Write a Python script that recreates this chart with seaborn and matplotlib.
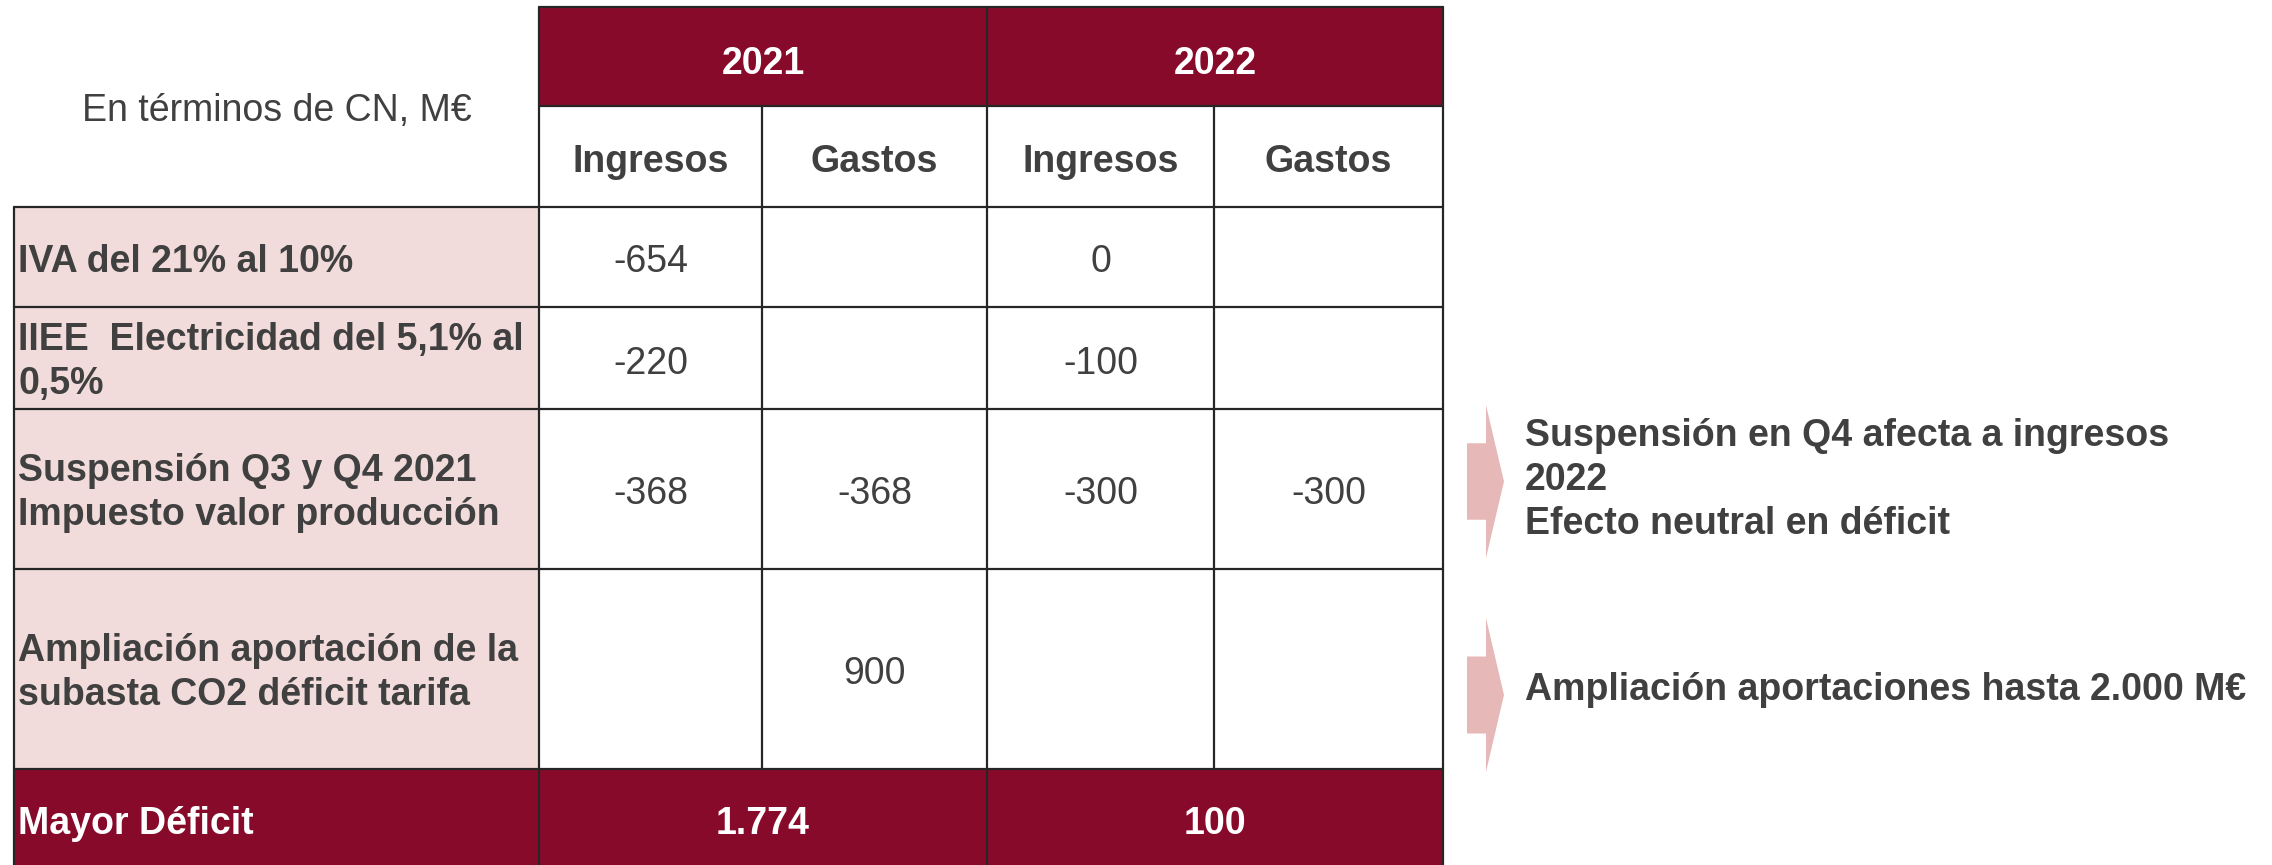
import matplotlib
matplotlib.use("Agg")
import matplotlib.pyplot as plt
import seaborn as sns
from matplotlib.patches import Rectangle, Polygon

# ---------------- data ----------------
unit_label = "En términos de CN, M€"
years = ["2021", "2022"]
subcols = ["Ingresos", "Gastos"]
row_labels = [
    "IVA del 21% al 10%",
    "IIEE  Electricidad del 5,1% al\n0,5%",
    "Suspensión Q3 y Q4 2021\nImpuesto valor producción",
    "Ampliación aportación de la\nsubasta CO2 déficit tarifa",
]
ingresos_2021 = [-654, -220, -368, None]
gastos_2021 = [None, None, -368, 900]
ingresos_2022 = [0, -100, -300, None]
gastos_2022 = [None, None, -300, None]
total_label = "Mayor Déficit"
mayor_deficit = [1774, 100]
notes = [
    "Suspensión en Q4 afecta a ingresos\n2022\nEfecto neutral en déficit",
    "Ampliación aportaciones hasta 2.000 M€",
]

# ---------------- style ----------------
sns.set_theme(style="white")
plt.rcParams["font.family"] = ["Liberation Sans", "DejaVu Sans"]

DARK_RED = "#880A2B"
PINK = "#F2DCDB"
ARROW = "#E6B9B8"
TXT = "#404040"
LINE = "#262626"
FS = 27
CAP_HALF = 13.5   # half cap height in px at FS
LS = 1.27

def fmt(v):
    if v is None:
        return ""
    s = f"{abs(v):,}".replace(",", ".")
    return ("-" if v < 0 else "") + s

W, H = 2272, 865
fig = plt.figure(figsize=(W / 100, H / 100), dpi=100)
ax = fig.add_axes([0, 0, 1, 1])
ax.set_xlim(0, W)
ax.set_ylim(H, 0)
ax.axis("off")

def line_text(x, cy, s, **kw):
    ax.text(x, cy + CAP_HALF, s, va="baseline", fontsize=FS, **kw)

# layout (pixel positions)
xs = [14, 539, 762, 987, 1214, 1443]
ys_head = [7, 106, 207]
ys_rows = [207, 307, 409, 569, 769]
y_bottom = 865

# header row 1 (years)
ax.add_patch(Rectangle((xs[1], ys_head[0]), xs[5] - xs[1], ys_head[1] - ys_head[0],
                       facecolor=DARK_RED, edgecolor="none"))
for i, yr in enumerate(years):
    cx = (xs[1 + 2 * i] + xs[3 + 2 * i]) / 2
    line_text(cx, (ys_head[0] + ys_head[1]) / 2 + 4, yr, color="white",
              fontweight="bold", ha="center")
# header row 2
for j in range(4):
    cx = (xs[1 + j] + xs[2 + j]) / 2
    line_text(cx, (ys_head[1] + ys_head[2]) / 2 + 2, subcols[j % 2], color=TXT,
              fontweight="bold", ha="center")
line_text((xs[0] + xs[1]) / 2, ys_head[1] + 2, unit_label, color=TXT, ha="center")

# body rows
cols = [ingresos_2021, gastos_2021, ingresos_2022, gastos_2022]
for r, lab in enumerate(row_labels):
    y0, y1 = ys_rows[r], ys_rows[r + 1]
    cy = (y0 + y1) / 2
    ax.add_patch(Rectangle((xs[0], y0), xs[1] - xs[0], y1 - y0,
                           facecolor=PINK, edgecolor="none"))
    if "\n" in lab:
        ax.text(xs[0] + 4, cy + 4, lab, color=TXT, fontsize=FS, fontweight="bold",
                ha="left", va="center", linespacing=LS)
    else:
        line_text(xs[0] + 4, cy + 2, lab, color=TXT, fontweight="bold", ha="left")
    for j, col in enumerate(cols):
        cx = (xs[1 + j] + xs[2 + j]) / 2
        line_text(cx, cy + 2, fmt(col[r]), color=TXT, ha="center")

# total row
yt0 = ys_rows[-1]
cyt = (yt0 + y_bottom) / 2 + 4
ax.add_patch(Rectangle((xs[0], yt0), xs[5] - xs[0], y_bottom - yt0,
                       facecolor=DARK_RED, edgecolor="none"))
line_text(xs[0] + 4, cyt, total_label, color="white", fontweight="bold", ha="left")
for i, v in enumerate(mayor_deficit):
    cx = (xs[1 + 2 * i] + xs[3 + 2 * i]) / 2
    line_text(cx, cyt, fmt(v), color="white", fontweight="bold", ha="center")

# grid lines
lw = 1.6
ax.plot([xs[1], xs[5]], [ys_head[0]] * 2, color=LINE, lw=lw)
ax.plot([xs[1], xs[5]], [ys_head[1]] * 2, color=LINE, lw=lw)
for y in ys_rows:
    ax.plot([xs[0], xs[5]], [y, y], color=LINE, lw=lw)
ax.plot([xs[0], xs[0]], [ys_rows[0], y_bottom], color=LINE, lw=lw)
ax.plot([xs[1], xs[1]], [ys_head[0], y_bottom], color=LINE, lw=lw)
ax.plot([xs[3], xs[3]], [ys_head[0], y_bottom], color=LINE, lw=lw)
ax.plot([xs[5], xs[5]], [ys_head[0], y_bottom], color=LINE, lw=lw)
for x in (xs[2], xs[4]):
    ax.plot([x, x], [ys_head[1], ys_rows[-1]], color=LINE, lw=lw)

# arrows + notes
arrow_spans = [(405, 558), (618, 772)]
note_centers = [480, 686]
for note, (top, bot), ny in zip(notes, arrow_spans, note_centers):
    mid = (top + bot) / 2
    bh = (bot - top) * 0.25
    poly = [(1467, mid - bh), (1486, mid - bh), (1486, top), (1504, mid),
            (1486, bot), (1486, mid + bh), (1467, mid + bh)]
    ax.add_patch(Polygon(poly, closed=True, facecolor=ARROW, edgecolor="none"))
    if "\n" in note:
        ax.text(1525, ny, note, color=TXT, fontsize=FS, fontweight="bold",
                ha="left", va="center", linespacing=LS)
    else:
        line_text(1525, ny, note, color=TXT, fontweight="bold", ha="left")

fig.savefig("out.png", dpi=100, facecolor="white")
